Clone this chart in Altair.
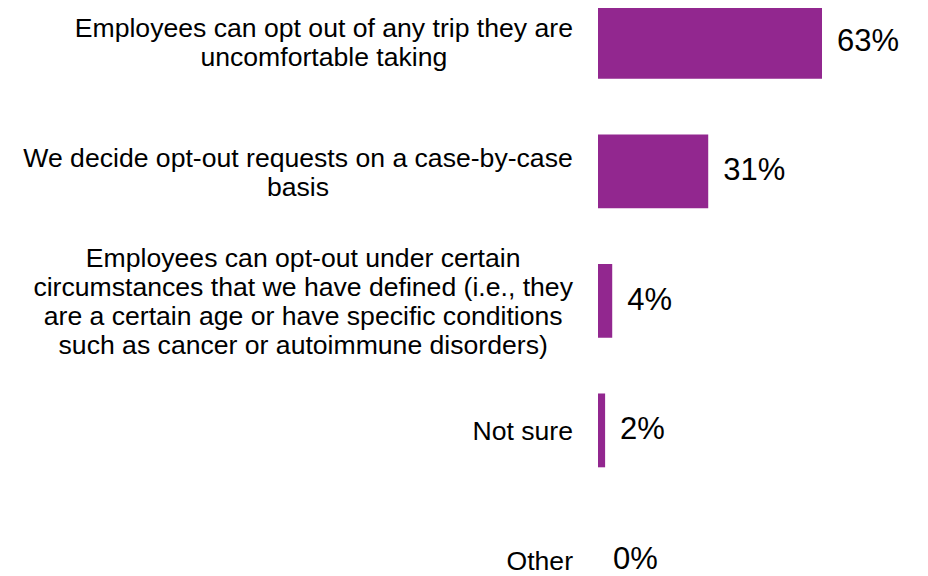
import altair as alt
import pandas as pd

# ---- data ----
categories = [
    "Employees can opt out of any trip they are\nuncomfortable taking",
    "We decide opt-out requests on a case-by-case\nbasis",
    "Employees can opt-out under certain\ncircumstances that we have defined (i.e., they\nare a certain age or have specific conditions\nsuch as cancer or autoimmune disorders)",
    "Not sure",
    "Other",
]
values = [63, 31, 4, 2, 0]
value_labels = ["63%", "31%", "4%", "2%", "0%"]

LABEL_FONT_SIZE = 26.6
VALUE_FONT_SIZE = 31
LINE_HEIGHT = 29
LABEL_DY = 2
VALUE_DY = 0
BAR_COLOR = "#92278F"
FONT = "Liberation Sans"

# Arial / Liberation Sans advance widths (per 1000 em), used to centre each
# multi-line label block so that its widest line ends just left of the bars
_w = {}
_w.update(dict(zip("abcdefghijklmnopqrstuvwxyz",
                   [556, 556, 500, 556, 556, 278, 556, 556, 222, 222, 500, 222, 833,
                    556, 556, 556, 556, 333, 500, 278, 556, 500, 722, 500, 500, 500])))
_w.update(dict(zip("ABCDEFGHIJKLMNOPQRSTUVWXYZ",
                   [667, 667, 722, 722, 667, 611, 778, 722, 278, 500, 667, 556, 833,
                    722, 778, 667, 778, 722, 667, 611, 722, 667, 944, 667, 667, 611])))
_w.update({" ": 278, "(": 333, ")": 333, ".": 278, ",": 278, "-": 333, "%": 889})
_w.update({d: 556 for d in "0123456789"})


def text_width(s, size):
    return max(sum(_w.get(c, 556) for c in line) for line in s.split("\n")) * size / 1000.0


df = pd.DataFrame({
    "category": categories,
    "value": values,
    "vlabel": value_labels,
})
df["tw"] = [text_width(c, LABEL_FONT_SIZE) for c in categories]
df["nlines"] = [c.count("\n") + 1 for c in categories]

PLOT_W = 322
PLOT_H = 552
GAP = 25

y_enc = alt.Y(
    "category:N",
    sort=categories,
    scale=alt.Scale(range=[-3, 588.8], paddingInner=0.43, paddingOuter=0),
    axis=None,
)
x_scale = alt.Scale(domain=[0, 90.56], nice=False, zero=True)

base = alt.Chart(df)

bars = base.mark_bar(color=BAR_COLOR).encode(
    x=alt.X("value:Q", scale=x_scale, axis=None),
    y=y_enc,
)

vals = base.mark_text(
    align="left", baseline="middle", dx=15, dy=VALUE_DY,
    fontSize=VALUE_FONT_SIZE, font=FONT, color="#000000",
).encode(
    x=alt.X("value:Q", scale=x_scale, axis=None),
    y=y_enc,
    text="vlabel:N",
)

label_scale = alt.Scale(domain=[0, PLOT_W], nice=False, zero=False)
label_layers = []
for n in sorted(set(df["nlines"])):
    label_layers.append(
        base.transform_filter(f"datum.nlines == {n}")
        .transform_calculate(lx=f"-({GAP} + datum.tw / 2)")
        .mark_text(
            align="center", baseline="middle", lineBreak="\n",
            lineHeight=LINE_HEIGHT, dy=-(n - 1) * LINE_HEIGHT / 2 + LABEL_DY,
            fontSize=LABEL_FONT_SIZE, font=FONT, color="#000000",
        )
        .encode(
            x=alt.X("lx:Q", scale=label_scale, axis=None),
            y=y_enc,
            text="category:N",
        )
    )

chart = alt.layer(bars, vals, *label_layers).resolve_scale(
    x="independent"
).properties(
    width=PLOT_W,
    height=PLOT_H,
    autosize=alt.AutoSizeParams(type="none"),
    padding={"left": 590, "top": 0, "right": 0, "bottom": 16},
    background="white",
).configure_view(stroke=None)

chart.save("out.html", embed_options={"renderer": "svg", "actions": False})
